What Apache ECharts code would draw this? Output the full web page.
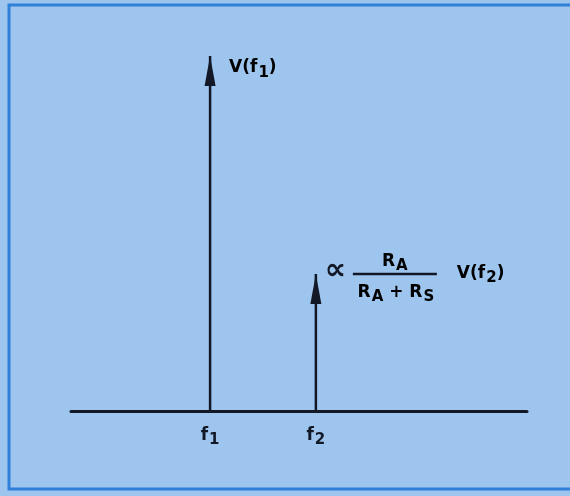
<!DOCTYPE html>
<html>
<head>
<meta charset="utf-8">
<script src="https://cdn.jsdelivr.net/npm/echarts@6/dist/echarts.min.js"></script>
<style>
  html, body { margin: 0; padding: 0; background: #9ec5ee; }
  #chart { width: 570px; height: 496px; }
</style>
</head>
<body>
<div id="chart"></div>
<script>
// spectral lines: position on frequency axis and relative amplitude
const freqs = [30.5, 53.7]
const amplitudes = [95.7, 36.9]
const freqSubs = ['1', '2']

const ink = '#121826'
const font = 'DejaVu Sans'

const chart = echarts.init(document.getElementById('chart'))

const rich = {
  n: { fontSize: 17, fontWeight: 'bold', color: ink, fontFamily: font },
  s: { fontSize: 15, fontWeight: 'bold', color: ink, fontFamily: font, padding: [10, 0, 0, 1] }
}

const spectralSeries = freqs.map((f, i) => ({
  type: 'line',
  data: [
    { value: [f, 0], symbol: 'none' },
    { value: [f, amplitudes[i]], symbol: 'triangle', symbolSize: [11, 30], symbolOffset: [0, 15] }
  ],
  lineStyle: { color: ink, width: 2.5 },
  itemStyle: { color: ink },
  silent: true
}))

chart.setOption({
  animation: false,
  backgroundColor: '#9ec5ee',
  grid: { left: 71, right: 43, top: 40, bottom: 85 },
  xAxis: {
    type: 'value',
    min: 0,
    max: 100,
    splitLine: { show: false },
    axisTick: { show: false },
    axisLine: { lineStyle: { color: ink, width: 3 } },
    axisLabel: {
      customValues: freqs,
      margin: 12,
      formatter: v => '{n|f}{s|' + freqSubs[freqs.indexOf(v)] + '}',
      rich: rich
    }
  },
  yAxis: { type: 'value', min: 0, max: 100, show: false },
  series: spectralSeries
})

// annotations anchored to the arrow tips
const tip1 = chart.convertToPixel({ gridIndex: 0 }, [freqs[0], amplitudes[0]])
const tip2 = chart.convertToPixel({ gridIndex: 0 }, [freqs[1], amplitudes[1]])

function label(x, y, parts, align) {
  return {
    type: 'text',
    x: x,
    y: y,
    style: {
      text: parts,
      rich: rich,
      align: align || 'left',
      verticalAlign: 'middle'
    }
  }
}

chart.setOption({
  graphic: [
    {
      type: 'polyline',
      shape: { points: [[575, 5], [9, 5], [9, 489], [575, 489]] },
      style: { stroke: '#2f80d8', lineWidth: 3, fill: null }
    },
    label(tip1[0] + 19, tip1[1] + 12, '{n|V(f}{s|1}{n|)}'),
    {
      type: 'text',
      x: tip2[0] + 9,
      y: tip2[1] - 3,
      style: { text: '∝', fontSize: 30, fontWeight: 'bold', fill: ink, fontFamily: 'DejaVu Sans', verticalAlign: 'middle' }
    },
    label(tip2[0] + 79, tip2[1] - 13, '{n|R}{s|A}', 'center'),
    {
      type: 'line',
      shape: { x1: tip2[0] + 37, y1: tip2[1], x2: tip2[0] + 121, y2: tip2[1] },
      style: { stroke: ink, lineWidth: 2.5 }
    },
    label(tip2[0] + 80, tip2[1] + 18, '{n|R}{s|A}{n| + R}{s|S}', 'center'),
    label(tip2[0] + 141, tip2[1] - 1, '{n|V(f}{s|2}{n|)}')
  ]
})
</script>
</body>
</html>
